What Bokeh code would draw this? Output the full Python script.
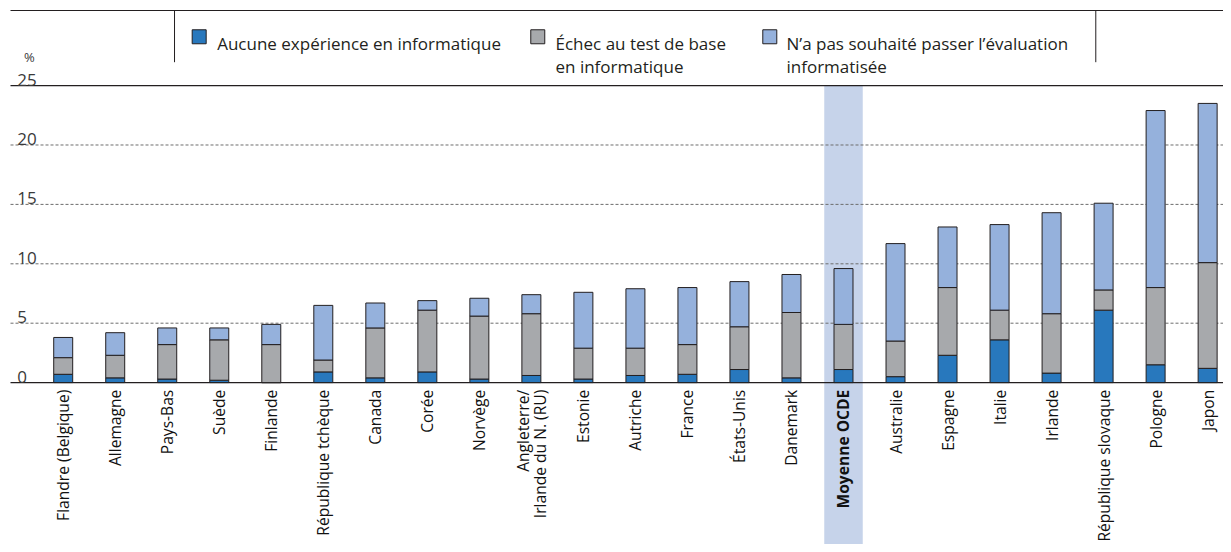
import math
from bokeh.plotting import figure
from bokeh.models import ColumnDataSource, Range1d
from bokeh.core.properties import value
from bokeh.embed import file_html
from bokeh.resources import INLINE

# ---- data ----
categories = ["Flandre (Belgique)", "Allemagne", "Pays-Bas", "Suède", "Finlande",
              "République tchèque", "Canada", "Corée", "Norvège",
              "Angleterre/\nIrlande du N. (RU)", "Estonie", "Autriche", "France",
              "États-Unis", "Danemark", "Moyenne OCDE", "Australie", "Espagne",
              "Italie", "Irlande", "République slovaque", "Pologne", "Japon"]
no_experience = [0.7, 0.4, 0.3, 0.2, 0.0, 0.9, 0.4, 0.9, 0.3, 0.6, 0.3, 0.6, 0.7,
                 1.1, 0.4, 1.1, 0.5, 2.3, 3.6, 0.8, 6.1, 1.5, 1.2]
failed_core = [1.4, 1.9, 2.9, 3.4, 3.2, 1.0, 4.2, 5.2, 5.3, 5.2, 2.6, 2.3, 2.5,
               3.6, 5.5, 3.8, 3.0, 5.7, 2.5, 5.0, 1.7, 6.5, 8.9]
opted_out = [1.7, 1.9, 1.4, 1.0, 1.7, 4.6, 2.1, 0.8, 1.5, 1.6, 4.7, 5.0, 4.8,
             3.8, 3.2, 4.7, 8.2, 5.1, 7.2, 8.5, 7.3, 14.9, 13.4]
series_names = ["Aucune expérience en informatique",
                "Échec au test de base\nen informatique",
                "N’a pas souhaité passer l’évaluation\ninformatisée"]
series_colors = ["#2878bd", "#a7a9ac", "#95b1dc"]
y_ticks = [0, 5, 10, 15, 20, 25]
highlight = "Moyenne OCDE"

FONT = value("Open Sans")

x = list(range(len(categories)))
src = ColumnDataSource(dict(x=x, s0=no_experience, s1=failed_core, s2=opted_out))

XS, XE = -1.2053, 22.305
YS, YE = -13.628, 32.163

p = figure(width=1223, height=544, x_range=Range1d(XS, XE), y_range=Range1d(YS, YE),
           output_backend="svg", toolbar_location=None, min_border=0,
           x_axis_location=None, y_axis_location=None, outline_line_color=None)
p.grid.visible = False
p.background_fill_color = "white"

# highlight band for OECD average
hi = categories.index(highlight)
p.quad(left=[hi - 0.37], right=[hi + 0.37], bottom=[YS], top=[max(y_ticks)],
       fill_color="#c6d3ea", line_color=None)

# gridlines
gx0 = -1.013
dashed = [t for t in y_ticks if 0 < t < max(y_ticks)]
p.segment(x0=[gx0] * len(dashed), x1=[XE] * len(dashed), y0=dashed, y1=dashed,
          line_color="#6d6d6d", line_width=1, line_dash="3 2")
# top and bottom solid lines, and legend top line
legend_top = 31.32
solid = [0, max(y_ticks), legend_top]
p.segment(x0=[gx0] * 3, x1=[XE] * 3, y0=solid, y1=solid, line_color="#231f20", line_width=1.2)
# legend separators
p.segment(x0=[2.14, 19.85], x1=[2.14, 19.85], y0=[legend_top] * 2, y1=[26.97] * 2,
          line_color="#231f20", line_width=1)

# stacked bars
p.vbar_stack(["s0", "s1", "s2"], x="x", width=0.365, color=series_colors,
             line_color="#231f20", line_width=1, source=src)

# y tick labels
p.text(x=[-0.884] * len(y_ticks), y=y_ticks, text=[str(t) for t in y_ticks],
       text_font=FONT, text_font_size="17px", text_color="#3a3a3a",
       text_align="left", text_baseline="bottom", y_offset=0)
p.text(x=[-0.65], y=[27.37], text=["%"], text_font=FONT, text_font_size="13px",
       text_color="#3a3a3a", text_align="center", text_baseline="middle")

# category labels (rotated)
lx, ly, lt, lw = [], [], [], []
for i, c in enumerate(categories):
    lines = c.split("\n")
    n = len(lines)
    for j, ln in enumerate(lines):
        lx.append(i + (j - (n - 1) / 2) * 0.33)
        ly.append(-0.6)
        lt.append(ln)
        lw.append("bold" if c == highlight else "normal")
lsrc = ColumnDataSource(dict(x=lx, y=ly, t=lt, w=lw))
p.text(x="x", y="y", text="t", angle=math.pi / 2, text_font=FONT, text_font_size="15.6px",
       text_font_style="w", text_color="#111111", text_align="right",
       text_baseline="middle", source=lsrc)

# legend
sq_x = [2.614, 9.123, 13.583]
tx = [2.960, 9.464, 13.904]
p.scatter(x=sq_x, y=[29.11] * 3, marker="square", size=14, fill_color=series_colors,
          line_color="#231f20", line_width=1)
for k, name in enumerate(series_names):
    for j, ln in enumerate(name.split("\n")):
        p.text(x=[tx[k]], y=[28.52 - j * 1.88], text=[ln], text_font=FONT,
               text_font_size="17px", text_color="#231f20", text_align="left",
               text_baseline="alphabetic")

open("out.html", "w").write(file_html(p, INLINE))
